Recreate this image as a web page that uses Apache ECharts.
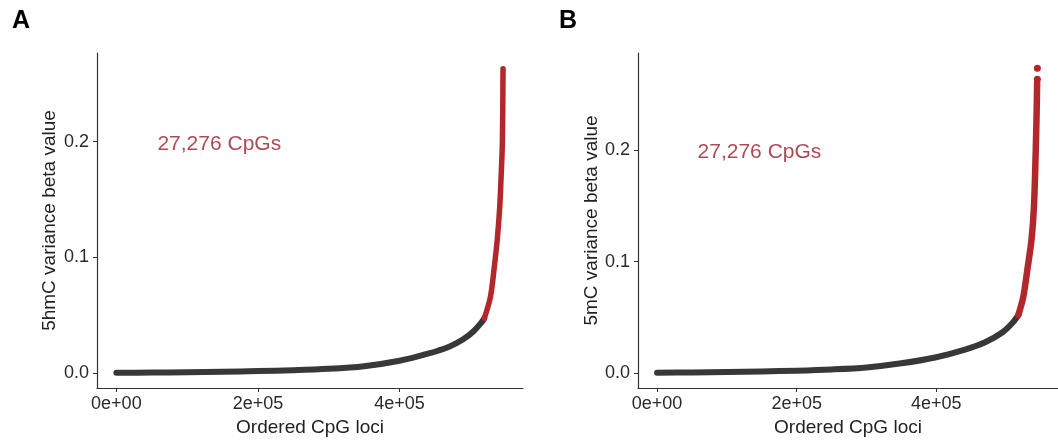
<!DOCTYPE html>
<html>
<head>
<meta charset="utf-8">
<style>
  html, body { margin: 0; padding: 0; background: #fff; }
  #chart { width: 1058px; height: 442px; }
</style>
<script src="https://cdn.jsdelivr.net/npm/echarts@6/dist/echarts.min.js"></script>
</head>
<body>
<div id="chart"></div>
<script>
// ordered CpG loci (x) vs variance (y)
var aBlack = [[0, 0], [50000, 0.0002], [100000, 0.0005], [150000, 0.0009], [200000, 0.0015],
  [250000, 0.0022], [300000, 0.0034], [350000, 0.0057], [400000, 0.0104], [440000, 0.0165],
  [470000, 0.0226], [490000, 0.029], [505000, 0.0362], [515000, 0.043], [519700, 0.047]];
var aRed = [[519700, 0.047], [528500, 0.066], [534500, 0.095], [538000, 0.115], [541500, 0.143],
  [543500, 0.17], [545300, 0.2], [546200, 0.263]];

var bBlack = [[0, 0], [50000, 0.0003], [100000, 0.0007], [150000, 0.0012], [200000, 0.0019],
  [250000, 0.003], [300000, 0.0048], [350000, 0.0085], [400000, 0.014], [440000, 0.0206],
  [470000, 0.0275], [495000, 0.0365], [510000, 0.0455], [517600, 0.052]];
var bRed = [[517600, 0.052], [524600, 0.068], [531000, 0.095], [536500, 0.12], [540000, 0.15],
  [542500, 0.2], [543800, 0.235], [544500, 0.261]];
var bOutliers = [[544800, 0.264], [544800, 0.274]];

var xTickValues = [0, 200000, 400000];
var xTickLabels = ['0e+00', '2e+05', '4e+05'];
var yTickValues = [0, 0.1, 0.2];
var yTickLabels = ['0.0', '0.1', '0.2'];
var noteText = '27,276 CpGs';
var notePos = [58000, 0.198];

var black = '#383838';
var red = '#b1272c';
var font = '"Liberation Sans", Arial, sans-serif';

function xAxis(idx) {
  return {
    type: 'value', gridIndex: idx,
    min: -27350, max: 574400,
    name: 'Ordered CpG loci', nameLocation: 'middle', nameGap: 25,
    nameTextStyle: { fontSize: 19, color: '#222', fontFamily: font },
    axisLine: { show: true, onZero: false, lineStyle: { color: '#333', width: 1.2 } },
    axisTick: { show: true, length: 4, customValues: xTickValues, lineStyle: { color: '#333' } },
    axisLabel: {
      customValues: xTickValues, margin: 7, fontSize: 18, color: '#2a2a2a', fontFamily: font,
      formatter: function(v) { return xTickLabels[xTickValues.indexOf(v)]; }
    },
    splitLine: { show: false }
  };
}

function yAxis(idx, name, max, gap) {
  return {
    type: 'value', gridIndex: idx,
    min: -max / 21, max: max,
    name: name, nameLocation: 'middle', nameGap: gap,
    nameTextStyle: { fontSize: 19, color: '#222', fontFamily: font },
    axisLine: { show: true, onZero: false, lineStyle: { color: '#333', width: 1.2 } },
    axisTick: { show: true, length: 4, customValues: yTickValues, lineStyle: { color: '#333' } },
    axisLabel: {
      customValues: yTickValues, margin: 8, fontSize: 18, color: '#2a2a2a', fontFamily: font,
      formatter: function(v) { return yTickLabels[yTickValues.indexOf(v)]; }
    },
    splitLine: { show: false }
  };
}

function curve(idx, data, color, w) {
  return {
    type: 'line', xAxisIndex: idx, yAxisIndex: idx, data: data,
    symbol: 'none', smooth: 0.3,
    lineStyle: { color: color, width: w, cap: 'round', join: 'round' }
  };
}

function note(idx) {
  return {
    type: 'scatter', xAxisIndex: idx, yAxisIndex: idx, data: [notePos],
    symbolSize: 0, silent: true,
    label: {
      show: true, position: 'right', distance: 0,
      formatter: noteText, fontSize: 21, color: '#9a1c28', fontFamily: font
    }
  };
}

var chart = echarts.init(document.getElementById('chart'), null, { renderer: 'canvas' });
chart.setOption({
  animation: false,
  backgroundColor: '#fff',
  grid: [
    { left: 97, top: 53, width: 426, height: 335 },
    { left: 638, top: 53, width: 427, height: 335 }
  ],
  xAxis: [xAxis(0), xAxis(1)],
  yAxis: [
    yAxis(0, '5hmC variance beta value', 0.2767, 38),
    yAxis(1, '5mC variance beta value', 0.2877, 33)
  ],
  graphic: [
    { type: 'text', left: 12, top: 9, style: { text: 'A', font: 'bold 25px ' + font, fill: '#000' } },
    { type: 'text', left: 559, top: 9, style: { text: 'B', font: 'bold 25px ' + font, fill: '#000' } }
  ],
  series: [
    curve(0, aBlack, black, 6),
    curve(0, aRed, red, 5.5),
    note(0),
    curve(1, bBlack, black, 6),
    curve(1, bRed, red, 6.5),
    {
      type: 'scatter', xAxisIndex: 1, yAxisIndex: 1, data: bOutliers,
      symbolSize: 7, itemStyle: { color: red, opacity: 1 }
    },
    note(1)
  ]
});
window.addEventListener('resize', function() { chart.resize(); });
</script>
</body>
</html>
